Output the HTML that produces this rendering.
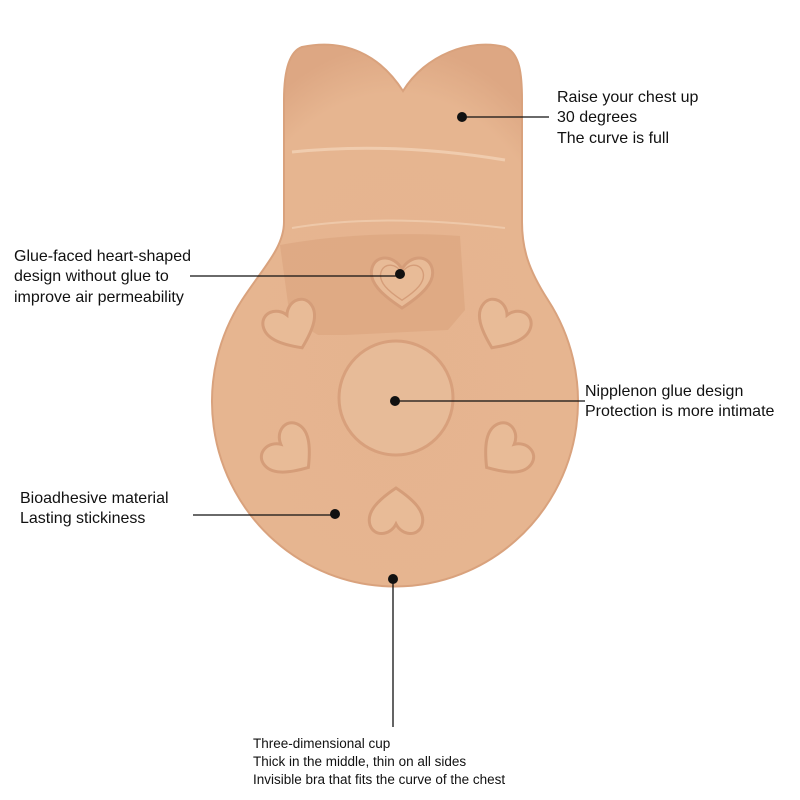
<!DOCTYPE html>
<html><head><meta charset="utf-8"><style>
body{margin:0;background:#fff;}
svg{display:block}
text{font-family:"Liberation Sans",sans-serif;fill:#111}
</style></head><body>
<svg width="800" height="800" viewBox="0 0 800 800">
<defs>
<radialGradient id="g" cx="0.5" cy="0.6" r="0.6">
<stop offset="0" stop-color="#e5b48f"/><stop offset="0.85" stop-color="#e6b590"/><stop offset="1" stop-color="#dda783"/>
</radialGradient>
</defs>
<path d="M302,47 C345,38 380,55 403,91 C425,55 470,38 505,47 C520,53 522,75 522,100 L522,222 C522,248 528,269 548,300 A183,185 0 1 1 242,300 C262,269 284,248 284,222 L284,100 C284,75 288,52 302,47 Z" fill="url(#g)" stroke="#d9a27d" stroke-width="2"/>
<path d="M280,245 C340,234 410,232 460,236 L465,310 L448,330 L345,335 L318,335 L290,318 Z" fill="#d89d78" opacity="0.45"/>
<path d="M292,152 C350,146 420,146 505,160" stroke="#f3d5ba" stroke-width="3" fill="none" opacity="0.7"/>
<path d="M292,228 C350,218 420,218 505,228" stroke="#f3d5ba" stroke-width="2" fill="none" opacity="0.6"/>
<circle cx="396" cy="398" r="57" fill="#e7bb98" stroke="#d8a07c" stroke-width="3"/>
<g fill="#e8bb97" stroke="#d59d79" stroke-width="3">
<path d="M0,26 C-20,13 -34,0 -30,-14 C-26,-28 -8,-27 0,-13 C8,-27 26,-28 30,-14 C34,0 20,13 0,26Z" transform="translate(402,282)"/>
<path d="M0,26 C-20,13 -34,0 -30,-14 C-26,-28 -8,-27 0,-13 C8,-27 26,-28 30,-14 C34,0 20,13 0,26Z" transform="translate(402,282) scale(0.7)" fill="none" stroke-width="2"/>
<path d="M0,24 C-18,12 -30,0 -26,-13 C-22,-25 -6,-24 0,-12 C6,-24 22,-25 26,-13 C30,0 18,12 0,24Z" transform="translate(292,326) rotate(-25)"/>
<path d="M0,24 C-18,12 -30,0 -26,-13 C-22,-25 -6,-24 0,-12 C6,-24 22,-25 26,-13 C30,0 18,12 0,24Z" transform="translate(502,326) rotate(25)"/>
<path d="M0,24 C-18,12 -30,0 -26,-13 C-22,-25 -6,-24 0,-12 C6,-24 22,-25 26,-13 C30,0 18,12 0,24Z" transform="translate(290,452) rotate(-50)"/>
<path d="M0,24 C-18,12 -30,0 -26,-13 C-22,-25 -6,-24 0,-12 C6,-24 22,-25 26,-13 C30,0 18,12 0,24Z" transform="translate(505,452) rotate(50)"/>
<path d="M0,-24 C-18,-12 -30,0 -26,13 C-22,25 -6,24 0,12 C6,24 22,25 26,13 C30,0 18,-12 0,-24Z" transform="translate(396,512)"/>
</g>
<g stroke="#111" stroke-width="1.3">
<line x1="462" y1="117" x2="549" y2="117"/>
<line x1="190" y1="276" x2="400" y2="276"/>
<line x1="395" y1="401" x2="585" y2="401"/>
<line x1="193" y1="515" x2="335" y2="515"/>
<line x1="393" y1="580" x2="393" y2="727"/>
</g>
<g fill="#111">
<circle cx="462" cy="117" r="5"/><circle cx="400" cy="274" r="5"/><circle cx="395" cy="401" r="5"/><circle cx="335" cy="514" r="5"/><circle cx="393" cy="579" r="5"/>
</g>
<g font-size="16">
<text x="557" y="102">Raise your chest up</text>
<text x="557" y="122">30 degrees</text>
<text x="557" y="143">The curve is full</text>
<text x="14" y="261">Glue-faced heart-shaped</text>
<text x="14" y="281">design without glue to</text>
<text x="14" y="302">improve air permeability</text>
<text x="585" y="396">Nipplenon glue design</text>
<text x="585" y="416">Protection is more intimate</text>
<text x="20" y="503">Bioadhesive material</text>
<text x="20" y="523">Lasting stickiness</text>
</g>
<g font-size="13.5">
<text x="253" y="748">Three-dimensional cup</text>
<text x="253" y="766">Thick in the middle, thin on all sides</text>
<text x="253" y="784">Invisible bra that fits the curve of the chest</text>
</g>
</svg>
</body></html>
